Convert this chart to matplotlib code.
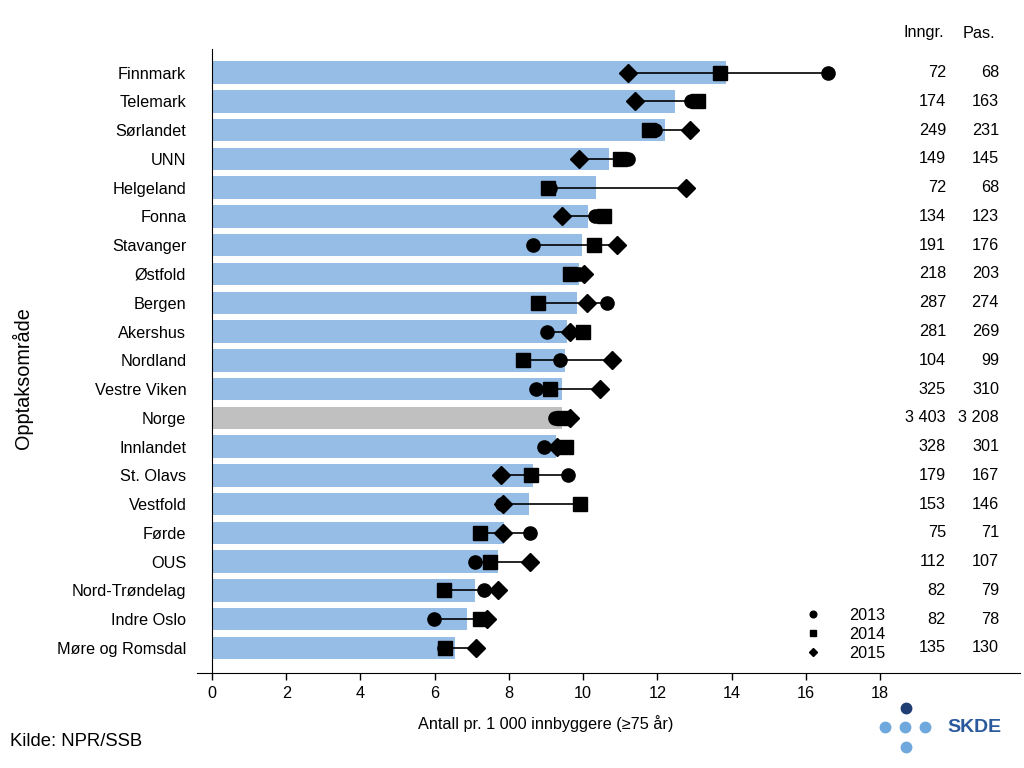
import matplotlib.pyplot as plt
from matplotlib import font_manager as fm
from matplotlib.lines import Line2D
from matplotlib.transforms import blended_transform_factory

# bruk vanlig Liberation Sans, ikke Narrow-varianten
fm.fontManager.ttflist = [f for f in fm.fontManager.ttflist if "Narrow" not in f.fname]
fm.fontManager._findfont_cached.cache_clear()
plt.rcParams["font.family"] = ["Liberation Sans", "DejaVu Sans"]

# opptaksområder, sortert etter gjennomsnitt (øverst først)
omrader = ["Finnmark", "Telemark", "Sørlandet", "UNN", "Helgeland", "Fonna",
           "Stavanger", "Østfold", "Bergen", "Akershus", "Nordland",
           "Vestre Viken", "Norge", "Innlandet", "St. Olavs", "Vestfold",
           "Førde", "OUS", "Nord-Trøndelag", "Indre Oslo", "Møre og Romsdal"]

snitt = [13.85, 12.47, 12.2, 10.7, 10.34, 10.12, 9.97, 9.88, 9.84, 9.57, 9.52,
         9.42, 9.42, 9.27, 8.64, 8.53, 7.88, 7.71, 7.1, 6.86, 6.55]

rate_2013 = [16.6, 12.9, 11.95, 11.2, 9.1, 10.33, 8.64, 9.9, 10.65, 9.03, 9.38,
             8.73, 9.24, 8.94, 9.6, 7.82, 8.57, 7.1, 7.34, 5.99, 6.26]
rate_2014 = [13.7, 13.1, 11.77, 11.0, 9.06, 10.57, 10.29, 9.66, 8.79, 10.0, 8.38,
             9.1, 9.45, 9.54, 8.6, 9.92, 7.21, 7.49, 6.25, 7.22, 6.28]
rate_2015 = [11.2, 11.4, 12.87, 9.9, 12.77, 9.42, 10.92, 10.03, 10.1, 9.64, 10.77,
             10.46, 9.64, 9.3, 7.8, 7.85, 7.84, 8.58, 7.7, 7.4, 7.11]

inngr = ["72", "174", "249", "149", "72", "134", "191", "218", "287", "281", "104",
         "325", "3 403", "328", "179", "153", "75", "112", "82", "82", "135"]
pas = ["68", "163", "231", "145", "68", "123", "176", "203", "274", "269", "99",
       "310", "3 208", "301", "167", "146", "71", "107", "79", "78", "130"]

BLA = "#95bde6"
GRA = "#c0c0c0"
FS = 11.7

fig = plt.figure(figsize=(10.24, 7.68), dpi=100)
ax = fig.add_axes([197 / 1024, 1 - 673 / 768, (1020 - 197) / 1024, (673 - 49) / 768])

y = list(range(len(omrader)))
farger = [GRA if o == "Norge" else BLA for o in omrader]
ax.barh(y, snitt, height=0.78, color=farger, zorder=1)

# linje fra min til maks for hvert område
lav = [min(a, b, c) for a, b, c in zip(rate_2013, rate_2014, rate_2015)]
hoy = [max(a, b, c) for a, b, c in zip(rate_2013, rate_2014, rate_2015)]
ax.hlines(y, lav, hoy, color="black", linewidth=1.2, zorder=2)

ax.plot(rate_2013, y, "o", color="black", markersize=9.5, linestyle="none", zorder=3)
ax.plot(rate_2014, y, "s", color="black", markersize=10, linestyle="none", zorder=3)
ax.plot(rate_2015, y, "D", color="black", markersize=9.5, linestyle="none", zorder=3)

ax.spines["top"].set_visible(False)
ax.spines["right"].set_visible(False)
ax.spines["left"].set_position(("data", 0))

px = (880 - 212) / 18.0
ax.set_xlim(-(212 - 197) / px, (1020 - 212) / px)
ax.set_ylim(20.87, -0.82)
ax.set_xticks(range(0, 19, 2))
ax.set_yticks(y)
ax.set_yticklabels(omrader)
ax.tick_params(axis="y", length=0, pad=18.5, labelsize=FS)
ax.tick_params(axis="x", length=5, width=1, labelsize=FS, pad=4)

# kolonner med antall innleggelser og pasienter
tr = blended_transform_factory(fig.transFigure, ax.transData)
for i in y:
    ax.text(946 / 1024, i, inngr[i], transform=tr, ha="right", va="center", fontsize=FS)
    ax.text(999 / 1024, i, pas[i], transform=tr, ha="right", va="center", fontsize=FS)
fig.text(924 / 1024, 1 - 33 / 768, "Inngr.", ha="center", va="center", fontsize=FS)
fig.text(979 / 1024, 1 - 33 / 768, "Pas.", ha="center", va="center", fontsize=FS)

# forklaring
handles = [Line2D([], [], marker=m, color="black", linestyle="none", markersize=s)
           for m, s in [("o", 4.8), ("s", 4.5), ("D", 4.3)]]
ax.legend(handles, ["2013", "2014", "2015"], loc="upper left",
          bbox_to_anchor=(805 / 1024, 1 - 608 / 768), bbox_transform=fig.transFigure,
          frameon=False, fontsize=FS, handlelength=1.0, handletextpad=1.7,
          labelspacing=0.25, borderpad=0, borderaxespad=0)

fig.text(546 / 1024, 1 - 724 / 768, "Antall pr. 1 000 innbyggere (≥75 år)",
         ha="center", va="center", fontsize=FS)
fig.text(22 / 1024, 1 - 378 / 768, "Opptaksområde", rotation=90,
         ha="center", va="center", fontsize=14.3)
fig.text(10 / 1024, 1 - 742 / 768, "Kilde: NPR/SSB", ha="left", va="center", fontsize=13.3)

# SKDE-logo
MORK = "#1f3d73"
LYS = "#6fa8dc"
for (lx, ly, c) in [(906, 708, MORK), (885, 727, LYS), (905, 727, LYS),
                    (925, 727, LYS), (906, 747, LYS)]:
    fig.add_artist(Line2D([lx / 1024], [1 - ly / 768], marker="o", markersize=7.5,
                          color=c, transform=fig.transFigure))
fig.text(947 / 1024, 1 - 727 / 768, "SKDE", ha="left", va="center",
         fontsize=14, fontweight="bold", color="#2a5a9c")

fig.savefig("out.png", dpi=100)
